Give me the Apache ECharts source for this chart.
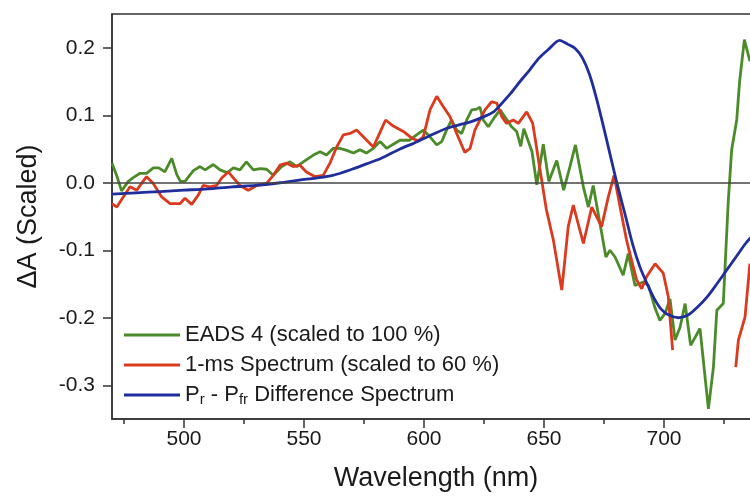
<!DOCTYPE html>
<html>
<head>
<meta charset="utf-8">
<script src="https://cdn.jsdelivr.net/npm/echarts@6/dist/echarts.min.js"></script>
<style>
  html, body { margin: 0; padding: 0; background: #fff; }
  #chart { width: 750px; height: 496px; }
</style>
</head>
<body>
<div id="chart"></div>
<script>
// EADS 4 (scaled to 100 %)
var eadsX = [470, 472, 474, 476.8, 479, 481.7, 484.4, 487.2, 489.5, 492, 494.9, 497, 498.5, 500.4, 503.9,
  506.7, 508.8, 512.2, 515, 518, 520.6, 523.3, 526, 528.9, 531.7, 534.4, 537.2, 540.7, 544.2, 547,
  549.7, 553.9, 556.7, 559.4, 562.2, 565, 567.8, 570.6, 573.3, 576, 578.9, 581.7, 584.4, 587.2, 590,
  594, 596.9, 599.7, 602.5, 605.3, 607.4, 609.4, 611.5, 613.6, 615.7, 617.8, 619.9, 622, 623.3, 624.7,
  626.8, 629.6, 631.7, 634.4, 636.5, 638.6, 640.3, 641.6, 643.2, 645, 647, 649.7, 652, 655.3, 658.2,
  660.8, 663.1, 666.4, 668.5, 670.5, 673.3, 675.8, 677.5, 679.6, 683, 685.1, 687.9, 691.4, 693.5, 696.3,
  698.3, 700.4, 702.5, 704.6, 706.7, 708.8, 711.1, 715, 718.5, 720.6, 722, 724.7, 726.8, 728.2, 730.3,
  731.5, 733.5, 735.8];
var eadsY = [0.029, 0.010, -0.012, 0.002, 0.008, 0.014, 0.014, 0.022, 0.022, 0.016, 0.036, 0.012, 0.002, 0.002, 0.018,
  0.024, 0.019, 0.027, 0.019, 0.015, 0.022, 0.019, 0.031, 0.019, 0.021, 0.020, 0.011, 0.024, 0.031, 0.024,
  0.031, 0.041, 0.046, 0.041, 0.051, 0.051, 0.048, 0.044, 0.049, 0.044, 0.051, 0.061, 0.051, 0.057, 0.063,
  0.063, 0.071, 0.078, 0.068, 0.056, 0.061, 0.078, 0.093, 0.078, 0.073, 0.093, 0.108, 0.109, 0.112, 0.093,
  0.083, 0.098, 0.108, 0.094, 0.083, 0.076, 0.054, 0.080, 0.064, 0.046, -0.003, 0.057, 0.002, 0.033, -0.011,
  0.024, 0.056, -0.006, -0.036, -0.004, -0.060, -0.110, -0.100, -0.110, -0.137, -0.105, -0.152, -0.147, -0.152, -0.186,
  -0.204, -0.194, -0.172, -0.233, -0.214, -0.179, -0.241, -0.216, -0.335, -0.273, -0.189, -0.179, -0.026, 0.049, 0.093,
  0.150, 0.212, 0.180];

// 1-ms Spectrum (scaled to 60 %), null = gap
var msX = [470, 472, 474.7, 477.5, 480.3, 484.4, 487.2, 490.7, 494.2, 498.3, 500.4, 503.2, 506, 508, 510.8,
  513.6, 515.7, 518.5, 520.6, 523.3, 526.8, 530.3, 534.4, 537.2, 540, 542.8, 545.5, 548.3, 551, 554.6,
  558, 560.8, 563.6, 566.4, 569.2, 571.9, 574.7, 578.9, 581.7, 584, 587.2, 591.4, 594.9, 597.6, 599.7,
  602.5, 605.3, 608, 610.8, 613.6, 617, 619.2, 621.2, 623.3, 625.4, 628.2, 630.3, 632.4, 634.4, 637.2,
  639.3, 642.8, 645.3, 647, 648.3, 651, 653.9, 657.4, 660.1, 662.2, 666.4, 669.9, 674, 676.8, 679.2,
  681.7, 684.4, 686.5, 688.6, 690.7, 692.8, 696.3, 699.7, 701.8, 703.6, 716, 729.9, 731, 733.75, 735.8];
var msY = [-0.031, -0.036, -0.021, -0.006, -0.011, 0.009, -0.001, -0.021, -0.031, -0.031, -0.023, -0.032, -0.018, -0.004, -0.006,
  -0.004, 0.007, 0.016, 0.007, -0.004, -0.011, -0.004, -0.001, 0.011, 0.026, 0.029, 0.024, 0.026, 0.016, 0.009,
  0.011, 0.029, 0.053, 0.071, 0.073, 0.078, 0.068, 0.053, 0.075, 0.093, 0.084, 0.076, 0.066, 0.062, 0.068,
  0.108, 0.128, 0.113, 0.098, 0.073, 0.045, 0.051, 0.078, 0.093, 0.108, 0.120, 0.118, 0.098, 0.088, 0.093,
  0.088, 0.105, 0.088, 0.050, 0.020, -0.040, -0.085, -0.159, -0.065, -0.033, -0.090, -0.036, -0.065, -0.021, 0.011,
  -0.036, -0.085, -0.115, -0.144, -0.157, -0.139, -0.120, -0.134, -0.169, -0.248, null, -0.273, -0.233, -0.199, -0.120];

// Pr - Pfr Difference Spectrum
var diffX = [470, 480, 490, 500, 510, 520, 530, 540, 548, 555, 562, 570, 576, 582, 590, 596, 602, 609, 615, 620,
  625, 629, 632, 636, 640, 644, 648, 652, 656.5, 660, 663, 666, 669, 672, 676, 680, 684, 687, 690, 693,
  696, 699, 702, 706, 710, 714, 718, 722, 726, 730, 734, 737];
var diffY = [-0.017, -0.015, -0.013, -0.011, -0.009, -0.006, -0.004, 0.000, 0.004, 0.007, 0.011, 0.020, 0.028, 0.036, 0.050, 0.059, 0.069, 0.080, 0.086, 0.091,
  0.098, 0.105, 0.116, 0.132, 0.150, 0.167, 0.185, 0.198, 0.211, 0.205, 0.199, 0.185, 0.160, 0.123, 0.065, 0.005, -0.050, -0.092, -0.125, -0.150,
  -0.172, -0.188, -0.196, -0.200, -0.196, -0.184, -0.169, -0.150, -0.130, -0.110, -0.090, -0.078];

var xMajorTicks = [500, 550, 600, 650, 700];
var xMinorTicks = [475, 525, 575, 625, 675, 725];
var yTicks = [-0.3, -0.2, -0.1, 0.0, 0.1, 0.2];

function pairs(xs, ys) {
  return xs.map(function (x, i) { return [x, ys[i] === null ? '-' : ys[i]]; });
}

var FONT = 'Liberation Sans, Arial, sans-serif';
var myChart = echarts.init(document.getElementById('chart'));

var option = {
  backgroundColor: '#fff',
  animation: false,
  textStyle: { fontFamily: FONT },
  grid: {
    left: 112, top: 14, right: -10, bottom: 77,
    show: true, borderColor: '#333', borderWidth: 1.5,
    outerBoundsMode: 'none'
  },
  legend: {
    orient: 'vertical',
    left: 119, top: 318,
    icon: 'rect',
    itemWidth: 56, itemHeight: 3, itemGap: 6,
    textStyle: {
      fontFamily: FONT, fontSize: 22, color: '#1a1a1a', lineHeight: 24,
      rich: { s: { fontFamily: FONT, fontSize: 15, color: '#1a1a1a', lineHeight: 24, verticalAlign: 'bottom' } }
    },
    formatter: function (name) {
      if (name === 'Pr - Pfr Difference Spectrum') return 'P{s|r} - P{s|fr} Difference Spectrum';
      return name;
    }
  },
  xAxis: [{
    type: 'value', min: 470, max: 740,
    name: 'Wavelength (nm)', nameLocation: 'middle', nameGap: 46,
    nameTextStyle: { fontFamily: FONT, fontSize: 27, color: '#1a1a1a' },
    axisLine: { show: true, onZero: false, lineStyle: { color: '#333', width: 1.5 } },
    axisTick: { show: true, length: 9, customValues: xMajorTicks, lineStyle: { color: '#333', width: 1.5 } },
    axisLabel: { customValues: xMajorTicks, margin: 10, fontSize: 21, color: '#1a1a1a', fontFamily: FONT },
    splitLine: { show: false }
  }, {
    type: 'value', min: 470, max: 740, position: 'bottom',
    axisLine: { show: false, onZero: false },
    axisTick: { show: true, length: 5, customValues: xMinorTicks, lineStyle: { color: '#333', width: 1.5 } },
    axisLabel: { show: false },
    splitLine: { show: false }
  }],
  yAxis: {
    type: 'value', min: -0.35, max: 0.25,
    name: 'ΔA (Scaled)', nameLocation: 'middle', nameGap: 70, nameRotate: 90,
    nameTextStyle: { fontFamily: FONT, fontSize: 27, color: '#1a1a1a' },
    axisLine: { show: true, onZero: false, lineStyle: { color: '#333', width: 1.5 } },
    axisTick: { show: true, length: 9, customValues: yTicks, lineStyle: { color: '#333', width: 1.5 } },
    axisLabel: {
      customValues: yTicks, margin: 17, fontSize: 21, color: '#1a1a1a', fontFamily: FONT,
      formatter: function (v) { return v.toFixed(1); }
    },
    splitLine: { show: false }
  },
  series: [{
    name: 'EADS 4 (scaled to 100 %)',
    type: 'line', symbol: 'none', showSymbol: false,
    color: '#4b8b2a', lineStyle: { width: 2.8, color: '#4b8b2a' },
    data: pairs(eadsX, eadsY),
    markLine: {
      silent: true, symbol: 'none', label: { show: false },
      lineStyle: { color: '#444', width: 1.5, type: 'solid' },
      data: [{ yAxis: 0 }]
    }
  }, {
    name: '1-ms Spectrum (scaled to 60 %)',
    type: 'line', symbol: 'none', showSymbol: false, connectNulls: false,
    color: '#dc3a1f', lineStyle: { width: 2.8, color: '#dc3a1f' },
    data: pairs(msX, msY)
  }, {
    name: 'Pr - Pfr Difference Spectrum',
    type: 'line', symbol: 'none', showSymbol: false, smooth: 0.3,
    color: '#202e9c', lineStyle: { width: 2.8, color: '#202e9c' },
    data: pairs(diffX, diffY)
  }]
};

myChart.setOption(option);
</script>
</body>
</html>
